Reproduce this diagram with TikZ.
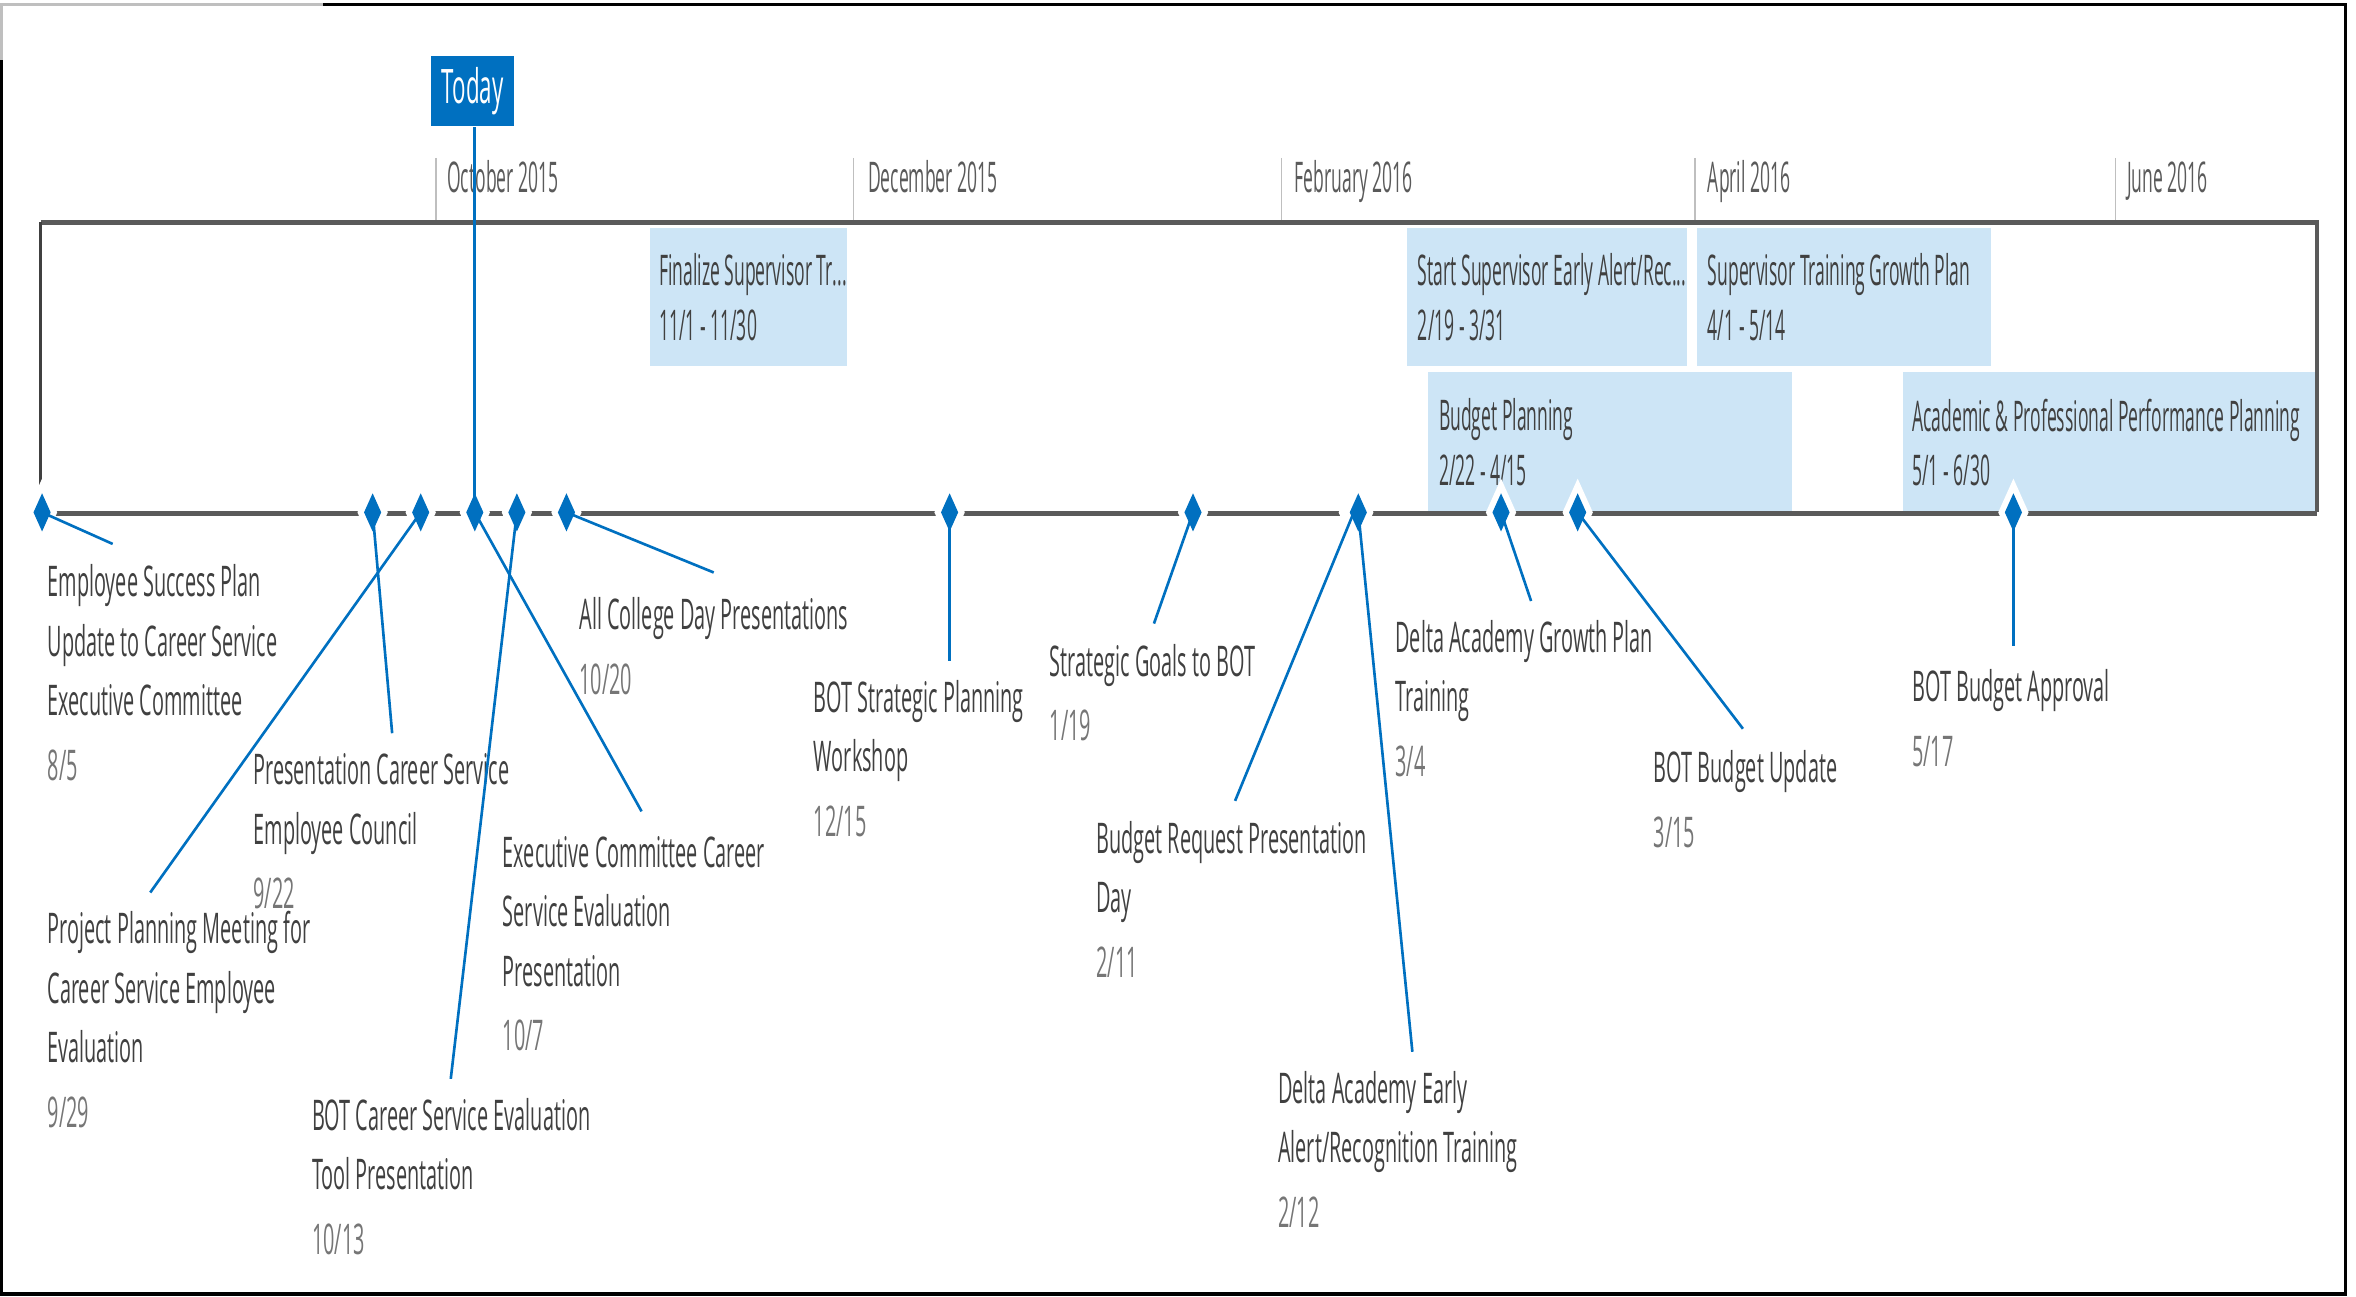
\documentclass[tikz,border=0pt]{standalone}
\usepackage{fontspec}
\setmainfont{Open Sans}[FakeStretch=0.47]
\newfontfamily\narrowfont{Open Sans}[FakeStretch=0.415]
\usetikzlibrary{shapes.geometric}
\definecolor{tlblue}{RGB}{0,112,192}
\definecolor{barblue}{RGB}{205,229,246}
\definecolor{axisgray}{RGB}{90,90,90}
\definecolor{tickgray}{RGB}{191,191,191}
\definecolor{titlegray}{RGB}{64,64,64}
\definecolor{dategray}{RGB}{118,118,118}
\newcommand{\msdate}[1]{\\[0.035cm]\textcolor{dategray}{#1}}

\begin{document}
\begin{tikzpicture}[x=0.01cm,y=-0.01cm,
  ms/.style={diamond,fill=tlblue,inner sep=0pt,minimum width=0.12cm,minimum height=0.26cm,preaction={draw=white,line width=0.08cm}},
  lbl/.style={anchor=north west,align=left,inner sep=0pt,text=titlegray,font=\fontsize{8}{11.24}\selectfont},
  conn/.style={tlblue,line width=0.5pt},
  bar/.style={anchor=north west,fill=barblue,inner sep=0pt},
  bartxt/.style={anchor=west,align=left,inner sep=0pt,text=titlegray,font=\narrowfont\fontsize{8}{10.24}\selectfont},
  month/.style={anchor=base west,inner sep=0pt,text=axisgray,font=\narrowfont\fontsize{8}{9}\selectfont}]
\useasboundingbox (0,0) rectangle (1568,863);
\draw[black!25,line width=0.4pt] (1,40) -- (1,3) -- (215,3);
\draw[black,line width=0.7pt] (215,3) -- (1561,3) -- (1561,861) -- (1,861) -- (1,40);

\draw[tickgray,line width=0.3pt] (290,105) -- (290,148);
\draw[tickgray,line width=0.3pt] (568,105) -- (568,148);
\draw[tickgray,line width=0.3pt] (853,105) -- (853,148);
\draw[tickgray,line width=0.3pt] (1128,105) -- (1128,148);
\draw[tickgray,line width=0.3pt] (1408,105) -- (1408,148);
\node[month] (oct) at (297,128) {October 2015};
\node[month] (dec) at (577,128) {December 2015};
\node[month] (feb) at (861,128) {February 2016};
\node[month] (apr) at (1136,128) {April 2016};
\node[month] (jun) at (1415,128) {June 2016};

\node[bar,minimum width=1.31cm,minimum height=0.92cm] (b1) at (432,151) {};
\node[bar,minimum width=1.86cm,minimum height=0.92cm] (b2) at (936,151) {};
\node[bar,minimum width=1.95cm,minimum height=0.92cm] (b3) at (1129,151) {};
\node[bar,minimum width=2.42cm,minimum height=0.93cm] (b4) at (950,247) {};
\node[bar,minimum width=2.76cm,minimum height=0.93cm] (b5) at (1266,247) {};
\node[bartxt] (t1) at ([xshift=0.06cm]b1.west) {Finalize Supervisor Tr...\\11/1 - 11/30};
\node[bartxt] (t2) at ([xshift=0.07cm]b2.west) {Start Supervisor Early Alert/Rec...\\2/19 - 3/31};
\node[bartxt] (t3) at ([xshift=0.07cm]b3.west) {Supervisor Training Growth Plan\\4/1 - 5/14};
\node[bartxt] (t4) at ([xshift=0.07cm]b4.west) {Budget Planning\\2/22 - 4/15};
\node[bartxt] (t5) at ([xshift=0.06cm]b5.west) {Academic \& Professional Performance Planning\\5/1 - 6/30};

\draw[axisgray,line width=0.8pt] (27,148) -- (1542,148) -- (1542,341);
\draw[titlegray,line width=0.5pt] (27,148) -- (27,325);
\draw[axisgray,line width=0.9pt] (27,341.5) -- (1542,341.5);

\node[ms] (m1) at (28,341) {};
\node[ms] (m2) at (248,341) {};
\node[ms] (m3) at (280,341) {};
\node[ms] (m4) at (316,341) {};
\node[ms] (m5) at (344,341) {};
\node[ms] (m6) at (377,341) {};
\node[ms] (m7) at (632,341) {};
\node[ms] (m8) at (794,341) {};
\node[ms] (m9) at (901,341) {};
\node[ms] (m10) at (904,341) {};
\node[ms] (m11) at (999,341) {};
\node[ms] (m12) at (1050,341) {};
\node[ms] (m13) at (1340,341) {};

\node[fill=tlblue,text=white,minimum width=0.55cm,minimum height=0.47cm,inner sep=0pt,font=\fontsize{9}{10}\selectfont] (today) at (314.5,60.5) {Today};
\draw[conn] (today.south -| m4.center) -- (m4.center);

\node[lbl] (l1) at (31,375) {Employee Success Plan\\Update to Career Service\\Executive Committee\msdate{8/5}};
\node[lbl] (l2) at (168,501) {Presentation Career Service\\Employee Council\msdate{9/22}};
\node[lbl] (l3) at (31,606) {Project Planning Meeting for\\Career Service Employee\\Evaluation\msdate{9/29}};
\node[lbl] (l4) at (334,556) {Executive Committee Career\\Service Evaluation\\Presentation\msdate{10/7}};
\node[lbl] (l5) at (207,730) {BOT Career Service Evaluation\\Tool Presentation\msdate{10/13}};
\node[lbl] (l6) at (385,397) {All College Day Presentations\msdate{10/20}};
\node[lbl] (l7) at (541,452) {BOT Strategic Planning\\Workshop\msdate{12/15}};
\node[lbl] (l8) at (698,428) {Strategic Goals to BOT\msdate{1/19}};
\node[lbl] (l9) at (729,546) {Budget Request Presentation\\Day\msdate{2/11}};
\node[lbl] (l10) at (850,712) {Delta Academy Early\\Alert/Recognition Training\msdate{2/12}};
\node[lbl] (l11) at (928,412) {Delta Academy Growth Plan\\Training\msdate{3/4}};
\node[lbl] (l12) at (1100,499) {BOT Budget Update\msdate{3/15}};
\node[lbl] (l13) at (1272,445) {BOT Budget Approval\msdate{5/17}};

\coordinate (c1) at (75,362);
\coordinate (c2) at (261,488);
\coordinate (c3) at (100,594);
\coordinate (c4) at (427,540);
\coordinate (c5) at (300,718);
\coordinate (c6) at (475,381);
\coordinate (c7) at (632,440);
\coordinate (c8) at (768,415);
\coordinate (c9) at (822,533);
\coordinate (c10) at (940,700);
\coordinate (c11) at (1019,400);
\coordinate (c12) at (1160,485);
\coordinate (c13) at (1340,430);
\draw[conn] (m1.center) -- (c1);
\draw[conn] (m2.center) -- (c2);
\draw[conn] (m3.center) -- (c3);
\draw[conn] (m4.center) -- (c4);
\draw[conn] (m5.center) -- (c5);
\draw[conn] (m6.center) -- (c6);
\draw[conn] (m7.center) -- (c7);
\draw[conn] (m8.center) -- (c8);
\draw[conn] (m9.center) -- (c9);
\draw[conn] (m10.center) -- (c10);
\draw[conn] (m11.center) -- (c11);
\draw[conn] (m12.center) -- (c12);
\draw[conn] (m13.center) -- (c13);
\end{tikzpicture}
\end{document}
